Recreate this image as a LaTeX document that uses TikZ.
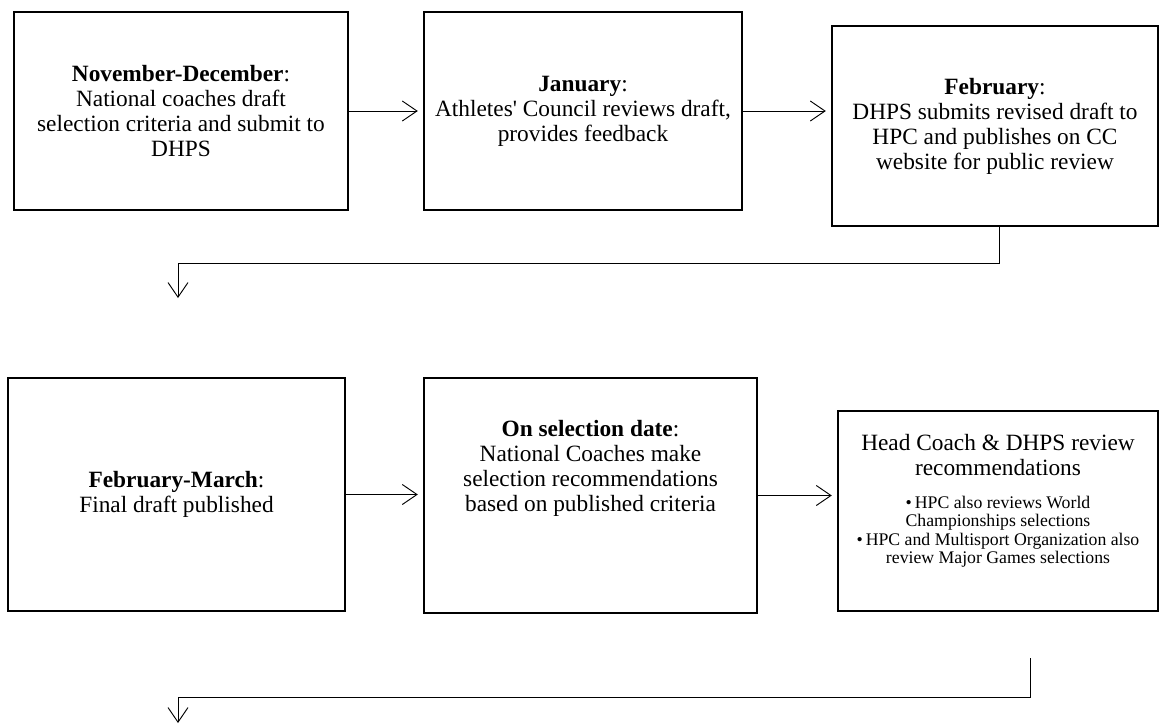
\documentclass[tikz,border=0pt]{standalone}
\usepackage{fontspec}
\setmainfont{Liberation Serif}
\usetikzlibrary{arrows.meta}

\begin{document}
\begin{tikzpicture}[x=0.75pt, y=-0.75pt,
  >={Straight Barb[length=11pt,width=15pt]},
  stage/.style={draw, line width=1.3pt, align=center, font=\fontsize{17.5}{18.8}\selectfont},
  link/.style={->, line width=0.7pt, shorten >=4pt}]
\useasboundingbox (0,0) rectangle (1160,726);
% first row
\node[stage, minimum width=250.5pt, minimum height=148.5pt] (nov) at (181,111)
  {\textbf{November-December}:\\ National coaches draft\\ selection criteria and submit to\\ DHPS};
\node[stage, minimum width=238.5pt, minimum height=148.5pt] (jan) at (583,111)
  {\textbf{January}:\\ Athletes\textquotesingle{} Council reviews draft,\\ provides feedback};
\node[stage, minimum width=244.5pt, minimum height=150pt] (feb) at (995,126)
  {\textbf{February}:\\ DHPS submits revised draft to\\ HPC and publishes on CC\\ website for public review};
% second row
\node[stage, minimum width=252.75pt, minimum height=174.75pt] (mar) at (176.5,494.5)
  {\textbf{February-March}:\\ Final draft published};
\node[stage, minimum width=249.75pt, minimum height=176.25pt, text depth=44pt] (sel) at (590.5,495.5)
  {\textbf{On selection date}:\\ National Coaches make\\ selection recommendations\\ based on published criteria};
\node[stage, minimum width=240pt, minimum height=150pt, inner sep=2pt, text depth=60pt] (rev) at (998,511)
  {Head Coach \& DHPS review\\ recommendations\\[6pt]
   \parbox[t]{232pt}{\centering\fontsize{13.3}{13.9}\selectfont
   \textbullet\,HPC also reviews World\\ Championships selections\\
   \textbullet\,HPC and Multisport Organization also\\ review Major Games selections}};

\draw[link] (nov.east) -- (nov.east -| jan.west);
\draw[link] (jan.east) -- (jan.east -| feb.west);
\draw[link] (mar.east) -- (mar.east -| sel.west);
\draw[link] (sel.east) -- (sel.east -| rev.west);

% turn down to the next row
\coordinate (turn1) at (178,263);
\coordinate (end1) at (178,298);
\draw[->, line width=0.7pt] ([xshift=3pt]feb.south) |- (turn1) -- (end1);

\coordinate (start2) at (1030,658);
\coordinate (turn2) at (178,697);
\coordinate (end2) at (178,723);
\draw[->, line width=0.7pt] (start2) |- (turn2) -- (end2);
\end{tikzpicture}
\end{document}
